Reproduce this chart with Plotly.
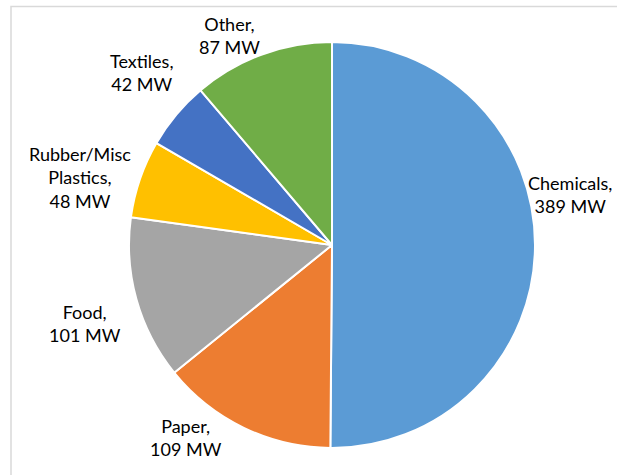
import plotly.graph_objects as go

categories = ["Chemicals", "Paper", "Food", "Rubber/Misc Plastics", "Textiles", "Other"]
label_lines = ["Chemicals,", "Paper,", "Food,", "Rubber/Misc<br>Plastics,", "Textiles,", "Other,"]
values_mw = [389, 109, 101, 48, 42, 87]
colors = ["#5B9BD5", "#ED7D31", "#A5A5A5", "#FFC000", "#4472C4", "#70AD47"]

# layout geometry (pixels)
W, H = 617, 475
L, R, T, B = 129, 82, 42, 27
PW, PH = W - L - R, H - T - B

# label centre positions in pixels (layout only)
label_pos_px = [(570, 194), (186, 437), (85, 324), (80, 177), (142, 72), (229, 36)]

fig = go.Figure(go.Pie(
    labels=categories,
    values=values_mw,
    textinfo="none",
    sort=False,
    direction="clockwise",
    rotation=0,
    marker=dict(colors=colors, line=dict(color="white", width=2)),
    showlegend=False,
    hoverinfo="label+value",
    domain=dict(x=[0, 1], y=[0, 1]),
))

annotations = []
for lab, v, (px, py) in zip(label_lines, values_mw, label_pos_px):
    annotations.append(dict(
        text=f"{lab}<br>{v} MW",
        x=(px - L) / PW, y=(H - B - py) / PH,
        xref="paper", yref="paper",
        xanchor="center", yanchor="middle",
        showarrow=False, align="center",
        font=dict(family="Lato", size=18, color="#000000"),
    ))

fig.update_layout(
    width=W, height=H,
    margin=dict(l=L, r=R, t=T, b=B),
    paper_bgcolor="white",
    plot_bgcolor="white",
    annotations=annotations,
    shapes=[dict(type="rect", xref="paper", yref="paper",
                 x0=(11 - L) / PW, x1=(W + 20 - L) / PW,
                 y0=-(B + 20) / PH, y1=(H - B - 6.5) / PH,
                 line=dict(color="#D9D9D9", width=1.5), fillcolor="rgba(0,0,0,0)")],
)

fig.write_html("out.html", config={"displayModeBar": False},
               post_script="document.body.style.margin='0';document.body.style.overflow='hidden';")
